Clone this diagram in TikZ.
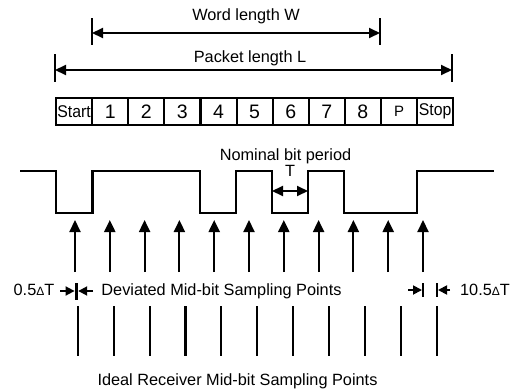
\documentclass[tikz,border=0pt]{standalone}
\usepackage{fontspec}
\setmainfont{Liberation Sans}
\usetikzlibrary{arrows.meta}
\begin{document}
\begin{tikzpicture}[x=1pt,y=-1pt,
  lbl/.style={font=\fontsize{16.3}{18}\selectfont, inner sep=0pt, anchor=base},
  dimline/.style={line width=2pt, {Triangle[length=11pt,width=10pt]}-{Triangle[length=11pt,width=10pt]}},
  tickline/.style={line width=2.1pt},
  cell/.style={draw, line width=2.1pt, minimum width=36.1pt, minimum height=26.7pt, inner sep=0pt, anchor=north west},
  wave/.style={line width=2.2pt},
  samp/.style={line width=2.1pt, -{Triangle[length=12pt,width=11pt]}},
  ideal/.style={line width=2.1pt},
  smallarr/.style={line width=1.8pt, -{Triangle[length=9pt,width=9pt]}}
]
\useasboundingbox (0,0) rectangle (512,391);

% Word length
\coordinate (wl) at (92,33); \coordinate (wr) at (380,33);
\draw[tickline] (92,18) -- (92,45);
\draw[tickline] (380,18) -- (380,45);
\draw[dimline] (wl) -- (wr);
\node[lbl] (wtxt) at (246,20) {Word length W};

% Packet length
\coordinate (pl) at (55,70); \coordinate (pr) at (452,70);
\draw[tickline] (55,54) -- (55,82);
\draw[tickline] (452,54) -- (452,82);
\draw[dimline] (pl) -- (pr);
\node[lbl] (ptxt) at (250,62) {Packet length L};

% Boxes
\foreach \t [count=\i from 0] in {{\fontsize{17}{18}\selectfont\scalebox{0.93}[1]{Start}},
  {\fontsize{19.5}{20}\selectfont 1},{\fontsize{19.5}{20}\selectfont 2},{\fontsize{19.5}{20}\selectfont 3},
  {\fontsize{19.5}{20}\selectfont 4},{\fontsize{19.5}{20}\selectfont 5},{\fontsize{19.5}{20}\selectfont 6},
  {\fontsize{19.5}{20}\selectfont 7},{\fontsize{19.5}{20}\selectfont 8},{\raisebox{-2pt}{\fontsize{15}{16}\selectfont P}},
  {\fontsize{17}{18}\selectfont\scalebox{0.93}[1]{Stop}}}
  \node[cell] (b\i) at ({55+36.1*\i},97) {\t};

% Waveform
\draw[wave] (20,170.7) -- (56,170.7) -- (56,212.7) -- (92.5,212.7) -- (92.5,170.7)
  -- (200,170.7) -- (200,212.7) -- (236,212.7) -- (236,170.7) -- (272,170.7)
  -- (272,212.7) -- (308,212.7) -- (308,170.7) -- (344,170.7) -- (344,212.7)
  -- (417,212.7) -- (417,170.7) -- (494,170.7);

% Nominal bit period
\node[lbl] (nbp) at (285.5,160.5) {Nominal bit period};
\node[lbl] (ttxt) at (290,176.7) {T};
\coordinate (tl) at (272,191); \coordinate (tr) at (308,191);
\draw[dimline] (tl) -- (tr);

% Deviated sampling arrows
\foreach \i in {0,...,10} {
  \coordinate (db\i) at ({75+34.8*\i},272);
  \coordinate (dt\i) at ({75+34.8*\i},220);
  \draw[samp] (db\i) -- (dt\i);
}

% Ideal sampling lines
\foreach \i in {0,...,10} {
  \coordinate (it\i) at ({77.7+35.93*\i},306);
  \coordinate (ib\i) at ({77.7+35.93*\i},356);
  \draw[ideal] (it\i) -- (ib\i);
}

% Deviation markers left
\draw[line width=3.4pt] (76.4,283) -- (76.4,300);
\coordinate (la1) at (60,291); \coordinate (la2) at (74.6,291);
\coordinate (ra1) at (93,291); \coordinate (ra2) at (78.2,291);
\draw[smallarr] (la1) -- (la2);
\draw[smallarr] (ra1) -- (ra2);
\node[lbl] (half) at (34,295) {0.5{\fontsize{12}{14}\selectfont Δ}T};

% Deviation markers right
\draw[tickline] (423,283) -- (423,297);
\draw[tickline] (437,283) -- (437,297);
\coordinate (lb1) at (408,290); \coordinate (lb2) at (422,290);
\coordinate (rb1) at (450,290); \coordinate (rb2) at (438,290);
\draw[smallarr] (lb1) -- (lb2);
\draw[smallarr] (rb1) -- (rb2);
\node[lbl] (tenhalf) at (485,295) {10.5{\fontsize{12}{14}\selectfont Δ}T};

\node[lbl] (devtxt) at (221.5,295) {Deviated Mid-bit Sampling Points};
\node[lbl] (idtxt) at (237.5,385) {Ideal Receiver Mid-bit Sampling Points};
\end{tikzpicture}
\end{document}
